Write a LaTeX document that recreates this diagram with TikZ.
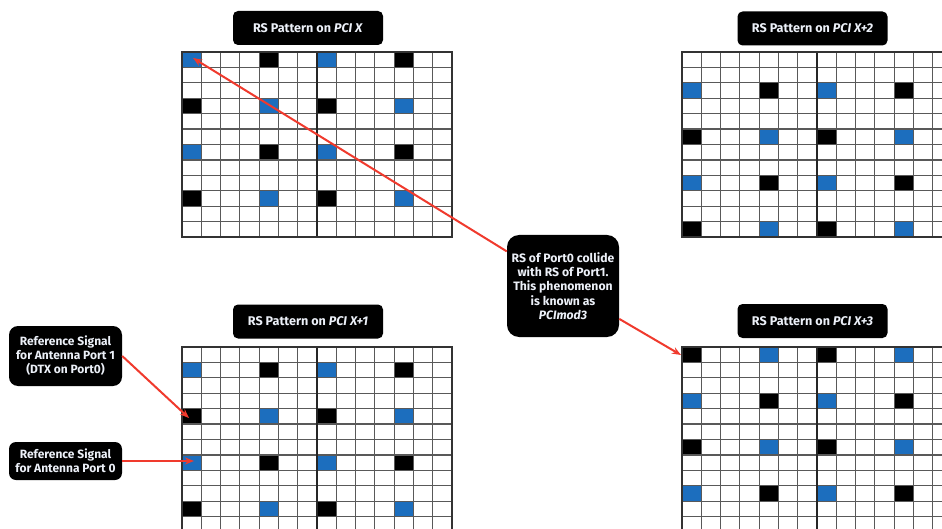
\documentclass[tikz,border=0pt]{standalone}
\usepackage{fontspec}
\setmainfont{Fira Sans}
\usetikzlibrary{arrows.meta}
\definecolor{rsblue}{RGB}{28,110,190}
\definecolor{arrred}{RGB}{240,58,45}
\definecolor{txtw}{RGB}{236,240,248}
\def\cw{19.2857}
\def\ch{15.4167}
\tikzset{
  gridline/.style={draw=black!65,line width=1.2pt},
  gridmid/.style={draw=black!85,line width=1.6pt},
  gridouter/.style={draw=black!80,line width=1.5pt},
  titlebox/.style={fill=black,rounded corners=5pt,minimum width=150pt,minimum height=34pt,
    text=txtw,font=\fontsize{12.6}{14}\selectfont\bfseries,inner sep=0pt},
  notebox/.style={fill=black,rounded corners=9pt,minimum width=113pt,
    text=txtw,font=\fontsize{12}{14}\selectfont\bfseries,align=center,inner sep=0pt},
  callout/.style={fill=black,rounded corners=12pt,minimum width=112pt,minimum height=102pt,
    text=txtw,font=\fontsize{12.2}{14.2}\selectfont\bfseries,align=center,inner sep=0pt},
  redarrow/.style={draw=arrred,line width=2pt,-{Stealth[length=9pt,width=7pt]}}
}
\newcommand\rsgrid[4]{%
\begin{scope}[shift={(#1,#2)}]
 \foreach \r in {#3}{
   \foreach \c in {0,7} \fill[rsblue] (\c*\cw,\r*\ch) rectangle ++(\cw,\ch);
   \foreach \c in {4,11} \fill[black] (\c*\cw,\r*\ch) rectangle ++(\cw,\ch);}
 \foreach \r in {#4}{
   \foreach \c in {0,7} \fill[black] (\c*\cw,\r*\ch) rectangle ++(\cw,\ch);
   \foreach \c in {4,11} \fill[rsblue] (\c*\cw,\r*\ch) rectangle ++(\cw,\ch);}
 \foreach \i in {1,...,13} \draw[gridline] (\i*\cw,0) -- (\i*\cw,12*\ch);
 \foreach \j in {1,...,11} \draw[gridline] (0,\j*\ch) -- (14*\cw,\j*\ch);
 \draw[gridmid] (7*\cw,0) -- (7*\cw,12*\ch);
 \draw[gridouter] (0,0) rectangle (14*\cw,12*\ch);
\end{scope}}
\begin{document}
\begin{tikzpicture}[x=1pt,y=-1pt]
\useasboundingbox (0,0) rectangle (942,529);
\clip (0,0) rectangle (942,529);
\fill[white] (0,0) rectangle (942,529);
% grids
\rsgrid{182}{52}{0,6}{3,9}
\rsgrid{682}{52}{2,8}{5,11}
\rsgrid{182}{347}{1,7}{4,10}
\rsgrid{682}{347}{3,9}{0,6}
% titles
\node[titlebox] (t1) at (308,28) {RS Pattern on \textit{PCI X}};
\node[titlebox] (t2) at (812.5,28.5) {RS Pattern on \textit{PCI X+2}};
\node[titlebox] (t3) at (308,321.5) {RS Pattern on \textit{PCI X+1}};
\node[titlebox] (t4) at (812.5,321) {RS Pattern on \textit{PCI X+3}};
% notes
\node[callout] (call) at (563,286) {RS of Port0 collide\\with RS of Port1.\\This phenomenon\\is known as\\\textit{PCImod3}};
\node[notebox,minimum height=60pt] (p1) at (65.5,356) {Reference Signal\\for Antenna Port 1\\(DTX on Port0)};
\node[notebox,minimum height=38pt,rounded corners=7pt] (p0) at (65.5,461) {Reference Signal\\for Antenna Port 0};
% arrow targets
\coordinate (a1) at (193,58);
\coordinate (a2) at (681,355);
\coordinate (a3) at (189,418);
\coordinate (a4) at (194,461);
\draw[redarrow] (call) -- (a1);
\draw[redarrow] (call) -- (a2);
\draw[redarrow] (p1.east) -- (a3);
\draw[redarrow] (p0.east) -- (a4);
\end{tikzpicture}
\end{document}
